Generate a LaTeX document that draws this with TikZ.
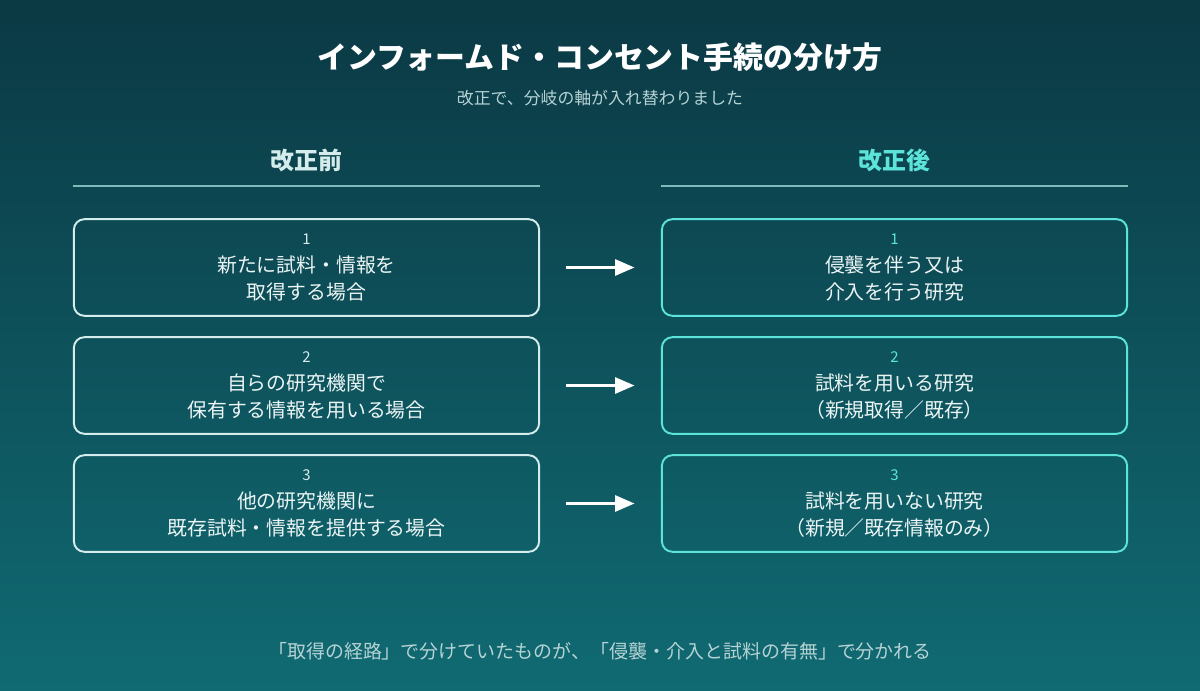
\documentclass[tikz,border=0pt]{standalone}
\usepackage{fontspec}
\setmainfont{Noto Sans CJK JP}
\usetikzlibrary{arrows.meta,positioning}
\definecolor{bgtop}{HTML}{0B3944}
\definecolor{bgbot}{HTML}{106A72}
\definecolor{oldline}{HTML}{D4ECEC}
\definecolor{newline}{HTML}{5CE3DA}
\definecolor{subtxt}{HTML}{B5D3D5}
\tikzset{
  card/.style={draw, line width=1.1pt, rounded corners=6pt, minimum width=264.8pt,
    minimum height=55pt, align=center, text=white!92!teal, inner sep=0pt,
    font=\fontsize{11.3}{15}\selectfont},
  oldcard/.style={card, draw=oldline},
  newcard/.style={card, draw=newline},
  flow/.style={white, line width=1.7pt, -{Triangle[width=9pt,length=11pt]},
    shorten <=14.7pt, shorten >=15pt}
}
\newcommand{\cardnum}[2]{\textcolor{#1}{\fontsize{8.5}{10}\selectfont #2}\\[1pt]}

\begin{document}
\begin{tikzpicture}[x=0.02cm,y=-0.02cm]
\shade[top color=bgtop,bottom color=bgbot] (0,0) rectangle (1200,690);
\useasboundingbox (0,0) rectangle (1200,690);
\node[text=white,font=\bfseries\fontsize{17}{20}\selectfont] (title) at (600,57) {インフォームド・コンセント手続の分け方};
\node[text=subtxt,font=\fontsize{9.6}{12}\selectfont] (subtitle) at (600,98) {改正で、分岐の軸が入れ替わりました};
\node[text=oldline,font=\bfseries\fontsize{13.6}{16}\selectfont] (hbefore) at (306.5,160) {改正前};
\node[text=newline,font=\bfseries\fontsize{13.6}{16}\selectfont] (hafter) at (894.5,160) {改正後};
\draw[subtxt!70!teal,line width=0.6pt] (73,186) -- (540,186);
\draw[subtxt!70!teal,line width=0.6pt] (661,186) -- (1128,186);
% before
\node[oldcard] (b1) at (306.5,267.5) {\cardnum{oldline}{1}新たに試料・情報を\\取得する場合};
\node[oldcard] (b2) at (306.5,385.5) {\cardnum{oldline}{2}自らの研究機関で\\保有する情報を用いる場合};
\node[oldcard] (b3) at (306.5,503.5) {\cardnum{oldline}{3}他の研究機関に\\既存試料・情報を提供する場合};
% after
\node[newcard] (a1) at (894.5,267.5) {\cardnum{newline}{1}侵襲を伴う又は\\介入を行う研究};
\node[newcard] (a2) at (894.5,385.5) {\cardnum{newline}{2}試料を用いる研究\\（新規取得／既存）};
\node[newcard] (a3) at (894.5,503.5) {\cardnum{newline}{3}試料を用いない研究\\（新規／既存情報のみ）};
\foreach \i in {1,2,3} {
  \draw[flow] (b\i) -- (a\i);
}
\node[text=subtxt,font=\fontsize{10.8}{13}\selectfont] (note) at (600,651) {「取得の経路」で分けていたものが、「侵襲・介入と試料の有無」で分かれる};
\end{tikzpicture}
\end{document}
